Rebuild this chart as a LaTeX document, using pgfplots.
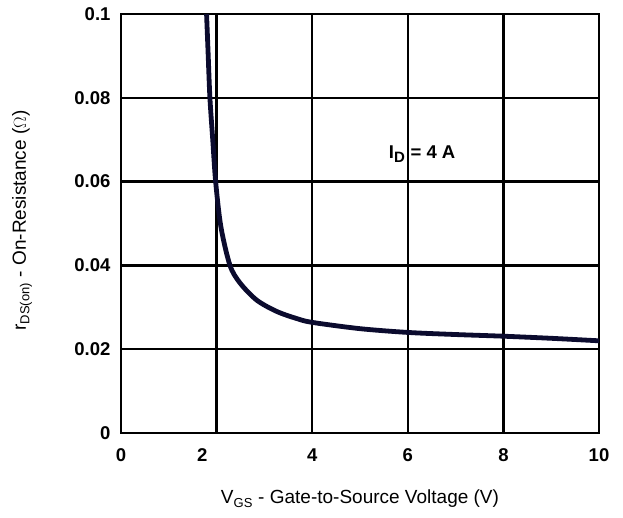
\documentclass[border=0pt]{standalone}
\usepackage{pgfplots}
\pgfplotsset{compat=1.18}
\usepackage{fontspec}
\setmainfont{Liberation Sans}
\definecolor{curve}{HTML}{0B0B2E}
\begin{document}
\begin{tikzpicture}
\begin{axis}[
  at={(0pt,0pt)}, anchor=south west,
  scale only axis,
  width=478pt, height=419pt,
  xmin=0, xmax=10, ymin=0, ymax=0.1,
  xtick={0,2,4,6,8,10},
  xticklabels={0,,4,6,8,10},
  extra x ticks={1.7},
  extra x tick labels={2},
  extra x tick style={grid=none, major tick length=0pt},
  ytick={0,0.02,0.04,0.06,0.08,0.1},
  yticklabels={0,0.02,0.04,0.06,0.08,0.1},
  major tick length=0pt,
  grid=major,
  major grid style={line width=2.4pt, black},
  axis line style={line width=2.4pt, black},
  tick label style={font=\fontsize{18.5}{20}\selectfont\bfseries},
  xticklabel style={yshift=-12pt},
  yticklabel style={xshift=-7pt},
  xlabel={V\textsubscript{\fontsize{13}{15}\selectfont GS} - Gate-to-Source Voltage (V)},
  ylabel={r\textsubscript{\fontsize{13}{15}\selectfont DS(on)} - On-Resistance ($\Omega$)},
  label style={font=\fontsize{19}{22}\selectfont},
  xlabel style={at={(axis description cs:0.5,0)}, anchor=center, yshift=-66pt},
  ylabel style={at={(axis description cs:0,0.5)}, anchor=center, yshift=99pt, xshift=3pt},
  clip=true,
]
\addplot[curve, line width=4.8pt, smooth, tension=0.5] coordinates {
  (1.79,0.1) (1.82,0.0914) (1.86,0.08) (1.92,0.0699) (1.98,0.06)
  (2.09,0.0492) (2.28,0.04) (2.49,0.0358) (2.84,0.0317) (3.26,0.0290)
  (3.68,0.0273) (4,0.0264) (5,0.0249) (6,0.0240) (7,0.0235) (8,0.0231)
  (9,0.0226) (10,0.0220)
};
\node[font=\fontsize{18.5}{20}\selectfont\bfseries] at (axis cs:6.3,0.0665) {I\textsubscript{\fontsize{15}{17}\selectfont D} = 4 A};
\end{axis}
\path[use as bounding box] (-121pt,-85pt) rectangle (502pt,433pt);
\end{tikzpicture}
\end{document}
